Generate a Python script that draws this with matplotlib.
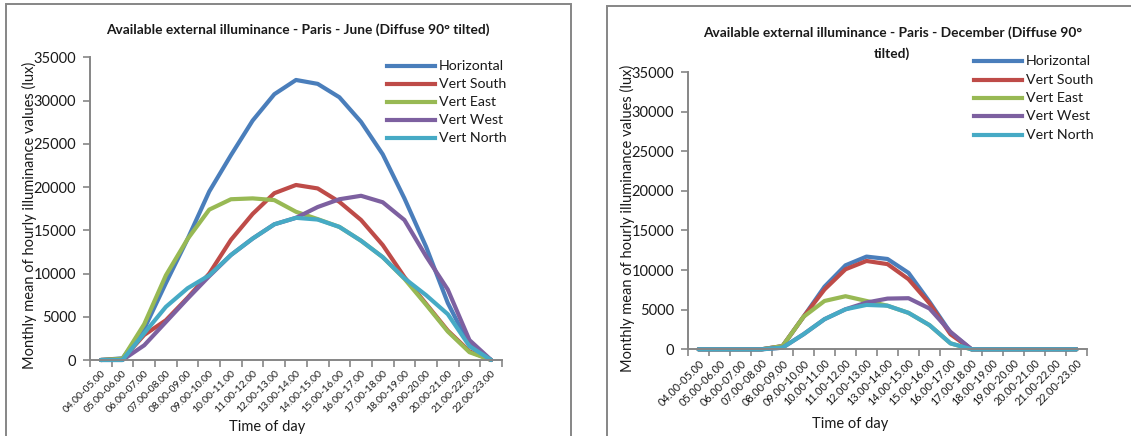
import matplotlib
matplotlib.use("Agg")
import matplotlib.pyplot as plt
from matplotlib.patches import Rectangle
from matplotlib.ticker import FixedLocator, MultipleLocator

plt.rcParams['font.family'] = ['Lato', 'DejaVu Sans']

hours = ["04.00-05.00", "05.00-06.00", "06.00-07.00", "07.00-08.00", "08.00-09.00",
         "09.00-10.00", "10.00-11.00", "11.00-12.00", "12.00-13.00", "13.00-14.00",
         "14.00-15.00", "15.00-16.00", "16.00-17.00", "17.00-18.00", "18.00-19.00",
         "19.00-20.00", "20.00-21.00", "21.00-22.00", "22.00-23.00"]

series_names = ["Horizontal", "Vert South", "Vert East", "Vert West", "Vert North"]
colors = ["#4A7EBB", "#BE4B48", "#98B954", "#7D60A0", "#46AAC5"]

# June, monthly mean of hourly illuminance (lux)
june_horizontal = [0, 200, 3600, 8900, 14000, 19500, 23700, 27700, 30750, 32400,
                   31950, 30400, 27550, 23800, 18700, 13100, 6600, 1700, 0]
june_south = [0, 100, 2900, 4600, 7200, 10000, 13900, 16900, 19300, 20250,
              19850, 18300, 16200, 13300, 9600, 6500, 3400, 1000, 0]
june_east = [0, 150, 4150, 9800, 14000, 17400, 18600, 18700, 18500, 17150,
             16300, 15400, 13800, 11900, 9400, 6400, 3300, 900, 0]
june_west = [0, 0, 1700, 4400, 7100, 9700, 12150, 14050, 15700, 16450,
             17700, 18600, 19000, 18250, 16200, 12000, 8150, 2300, 0]
june_north = [0, 0, 3100, 6150, 8300, 9800, 12150, 14050, 15700, 16450,
              16250, 15400, 13800, 11900, 9450, 7500, 5300, 1600, 0]

# December, monthly mean of hourly illuminance (lux)
dec_horizontal = [0, 0, 0, 0, 400, 4100, 7900, 10600, 11700, 11400,
                  9650, 6000, 2100, 0, 0, 0, 0, 0, 0]
dec_south = [0, 0, 0, 0, 400, 4100, 7550, 10100, 11150, 10750,
             8850, 5800, 1900, 0, 0, 0, 0, 0, 0]
dec_east = [0, 0, 0, 0, 400, 4100, 6100, 6700, 6100, 5500,
            4600, 3050, 750, 0, 0, 0, 0, 0, 0]
dec_west = [0, 0, 0, 0, 200, 1900, 3800, 5050, 5900, 6400,
            6450, 5150, 2200, 0, 0, 0, 0, 0, 0]
dec_north = [0, 0, 0, 0, 200, 1900, 3800, 5050, 5600, 5500,
             4600, 3050, 750, 0, 0, 0, 0, 0, 0]

june = [june_horizontal, june_south, june_east, june_west, june_north]
december = [dec_horizontal, dec_south, dec_east, dec_west, dec_north]

W, H = 1131, 436
fig = plt.figure(figsize=(W / 100, H / 100), dpi=100)
GRID = "#868686"
TEXT = "#1a1a1a"


def px_axes(x0, y0, x1, y1):
    """Axes from pixel corners (top-left origin)."""
    return fig.add_axes([x0 / W, 1 - y1 / H, (x1 - x0) / W, (y1 - y0) / H])


def frame(x0, y0, x1, y1):
    fig.patches.append(Rectangle((x0 / W, 1 - y1 / H), (x1 - x0) / W, (y1 - y0) / H,
                                 transform=fig.transFigure, fill=False,
                                 edgecolor=GRID, linewidth=1.4, zorder=0))


def draw_panel(ax, data, leg_x, leg_y0, leg_dy, tick_fs):
    x = range(len(hours))
    for vals, name, c in zip(data, series_names, colors):
        ax.plot(x, vals, color=c, lw=3.0, label=name, solid_joinstyle='round',
                solid_capstyle='round', clip_on=False)
    ax.set_xlim(-0.5, len(hours) - 0.5)
    ax.set_ylim(0, 35000)
    ax.yaxis.set_major_locator(MultipleLocator(5000))
    ax.set_xticks(list(x))
    ax.set_xticklabels(hours, rotation=45, ha='right', va='top',
                       rotation_mode='anchor', fontsize=tick_fs, color=TEXT)
    ax.xaxis.set_minor_locator(FixedLocator([i - 0.5 for i in range(len(hours) + 1)]))
    ax.tick_params(axis='x', which='major', length=0, pad=6)
    ax.tick_params(axis='x', which='minor', length=5, width=1.2, color=GRID,
                   direction='out')
    ax.tick_params(axis='y', length=5, width=1.2, color=GRID, labelsize=10.5,
                   labelcolor=TEXT, pad=5)
    for s in ('top', 'right'):
        ax.spines[s].set_visible(False)
    for s in ('left', 'bottom'):
        ax.spines[s].set_color(GRID)
        ax.spines[s].set_linewidth(1.4)
    ax.patch.set_alpha(0)
    # legend built by hand so rows sit where wanted
    for k, (name, c) in enumerate(zip(series_names, colors)):
        yy = leg_y0 + k * leg_dy
        fig.add_artist(plt.Line2D([leg_x / W, (leg_x + 48) / W],
                                  [1 - yy / H, 1 - yy / H],
                                  transform=fig.transFigure, color=c, lw=3.0))
        fig.text((leg_x + 52) / W, 1 - yy / H, name, fontsize=10.2, color=TEXT,
                 va='center', ha='left')


frame(6, 4, 571, 440)
frame(607, 6, 1140, 440)

ax1 = px_axes(90, 57.5, 502, 360)
draw_panel(ax1, june, 387, 66, 18.1, 7.4)
fig.text(298 / W, 1 - 30 / H,
         "Available external illuminance - Paris - June (Diffuse 90° tilted)",
         fontsize=9.9, fontweight='bold', ha='center', va='center', color=TEXT)
fig.text(29 / W, 1 - 215 / H, "Monthly mean of hourly illuminance values (lux)",
         rotation=90, fontsize=10.5, ha='center', va='center', color=TEXT)
fig.text(267 / W, 1 - 427 / H, "Time of day", fontsize=10.5, ha='center',
         va='center', color=TEXT)

ax2 = px_axes(688, 72, 1087, 349.3)
draw_panel(ax2, december, 974, 61, 18.5, 7.8)
fig.text(893 / W, 1 - 33 / H,
         "Available external illuminance - Paris - December (Diffuse 90°",
         fontsize=9.9, fontweight='bold', ha='center', va='center', color=TEXT)
fig.text(892 / W, 1 - 54 / H, "tilted)", fontsize=9.9, fontweight='bold',
         ha='center', va='center', color=TEXT)
fig.text(627 / W, 1 - 218 / H, "Monthly mean of hourly illuminance values (lux)",
         rotation=90, fontsize=10.5, ha='center', va='center', color=TEXT)
fig.text(850 / W, 1 - 424 / H, "Time of day", fontsize=10.5, ha='center',
         va='center', color=TEXT)

fig.savefig("out.png", dpi=100, facecolor="white")
